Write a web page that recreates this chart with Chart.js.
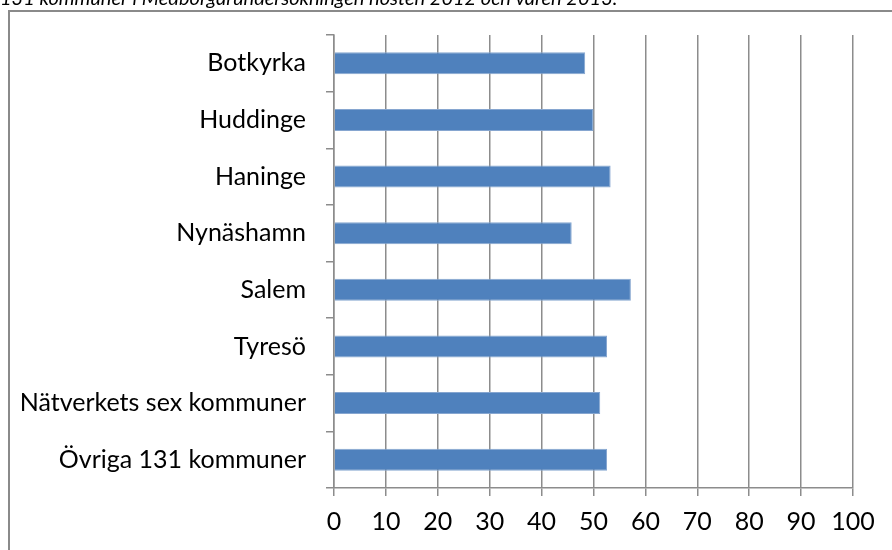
<!DOCTYPE html>
<html>
<head>
<meta charset="utf-8">
<script src="https://cdn.jsdelivr.net/npm/chart.js@4"></script>
<style>
  html, body { margin: 0; padding: 0; background: #fff; }
  #wrap { width: 892px; height: 550px; position: relative; overflow: hidden; }
</style>
</head>
<body>
<div id="wrap"><canvas id="chart" width="892" height="550"></canvas></div>
<script>
// Categories and values (percent)
const categories = ['Botkyrka', 'Huddinge', 'Haninge', 'Nynäshamn', 'Salem', 'Tyresö', 'Nätverkets sex kommuner', 'Övriga 131 kommuner'];
const values = [48.4, 50.0, 53.3, 45.8, 57.2, 52.6, 51.3, 52.6];
const xTicks = [0, 10, 20, 30, 40, 50, 60, 70, 80, 90, 100];
const topNote = '131 kommuner i Medborgarundersökningen hösten 2012 och våren 2013.';

const gridGrey = '#8c8c8c';

// Draws the outer frame and the clipped note above it
const framePlugin = {
  id: 'frame',
  beforeDraw(chart) {
    const c = chart.ctx;
    c.save();
    c.fillStyle = '#fff';
    c.fillRect(0, 0, chart.width, chart.height);
    c.strokeStyle = '#8a8a8a';
    c.lineWidth = 2;
    c.beginPath();
    c.moveTo(9, chart.height + 2);
    c.lineTo(9, 11);
    c.lineTo(chart.width + 2, 11);
    c.stroke();
    c.fillStyle = '#000';
    c.font = 'italic 20px Lato';
    c.textBaseline = 'alphabetic';
    c.fillText(topNote, 0, 5);
    c.restore();
  }
};

const ctx = document.getElementById('chart').getContext('2d');
new Chart(ctx, {
  type: 'bar',
  data: {
    labels: categories,
    datasets: [{
      data: values,
      backgroundColor: '#4F81BD',
      borderColor: '#86a6d0',
      borderWidth: 1,
      barPercentage: 0.39,
      categoryPercentage: 1
    }]
  },
  options: {
    indexAxis: 'y',
    responsive: false,
    animation: false,
    layout: { padding: { top: 34, right: 39, left: 0, bottom: 0 } },
    plugins: { legend: { display: false }, tooltip: { enabled: false } },
    scales: {
      x: {
        min: 0,
        max: 100,
        afterBuildTicks(scale) { scale.ticks = xTicks.map(v => ({ value: v })); },
        afterFit(scale) { scale.height = 62; },
        grid: { color: gridGrey, lineWidth: 1.5, tickLength: 8, drawTicks: true },
        border: { color: gridGrey, width: 1.5 },
        ticks: { color: '#000', font: { family: 'Lato', size: 25 }, padding: 11, maxRotation: 0 }
      },
      y: {
        afterFit(scale) { scale.width = 334; },
        grid: { drawOnChartArea: false, color: gridGrey, lineWidth: 1.5, tickLength: 8, offset: true },
        border: { color: gridGrey, width: 1.5 },
        ticks: { color: '#000', font: { family: 'Lato', size: 25 }, padding: 20 }
      }
    }
  },
  plugins: [framePlugin]
});
</script>
</body>
</html>
